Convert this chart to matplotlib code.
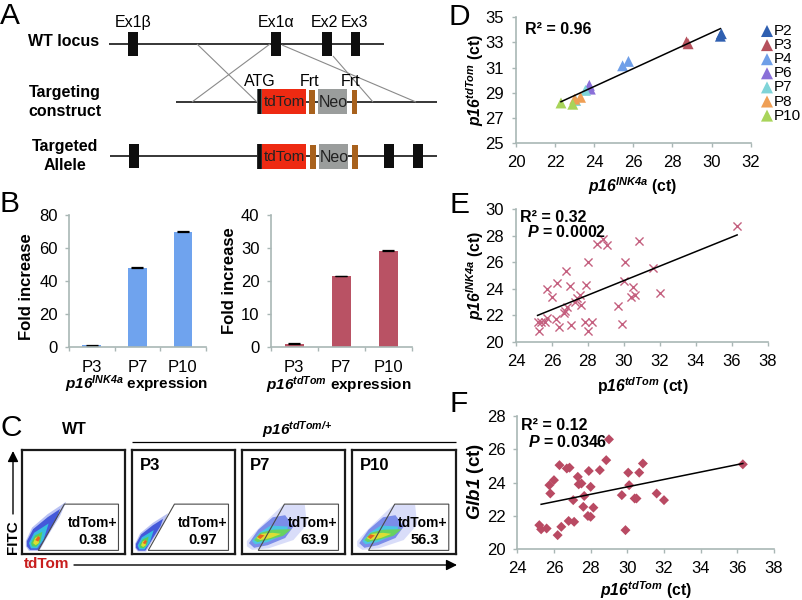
import matplotlib
matplotlib.use("Agg")
import matplotlib.pyplot as plt
from matplotlib.patches import Rectangle, Polygon
import numpy as np

plt.rcParams.update({
    'font.family': ['Liberation Sans', 'DejaVu Sans'],
    'mathtext.fontset': 'custom',
    'mathtext.rm': 'Liberation Sans',
    'mathtext.it': 'Liberation Sans:italic',
    'mathtext.bf': 'Liberation Sans:bold',
    'mathtext.bfit': 'Liberation Sans:italic:bold',
})

W, H = 802, 600
AX_COL = '#a9b7b5'

# ---- data -----
b_labels = ['P3', 'P7', 'P10']
b1_values = [1, 48, 70]
b2_values = [1, 21.5, 29.2]
b1_err = [0.15, 0.25, 0.25]
b2_err = [0.08, 0.08, 0.08]

d_groups = ['P2', 'P3', 'P4', 'P6', 'P7', 'P8', 'P10']
d_colors = ['#2f5fb0', '#b5505c', '#6f9fe8', '#8a70d8', '#7fd4d8', '#ef9f55', '#a8d45a']
d_x = [[30.45, 30.5], [28.72, 28.8], [25.45, 25.75], [23.75, 23.8], [23.55, 23.05], [23.3, 23.0], [22.3, 22.9]]
d_y = [[33.5, 33.7], [33.05, 32.9], [31.15, 31.5], [29.6, 29.3], [29.2, 28.4], [28.65, 28.5], [28.2, 28.1]]
d_fit_x = [22.3, 30.45]
d_fit_y = [28.3, 34.1]

e_x = [25.2, 25.3, 25.4, 25.6, 25.75, 25.75, 26.0, 26.2, 26.3, 26.4, 26.65, 26.75, 26.8, 26.85, 27.0, 27.05, 27.3, 27.4,
       27.55, 27.6, 27.85, 27.9, 28.0, 28.0, 28.2, 28.5, 28.85, 29.05, 29.7, 29.9, 30.0, 30.05, 30.4, 30.5, 30.6, 30.85,
       31.6, 32.0, 36.3]
e_y = [21.5, 20.8, 21.5, 21.5, 21.8, 24.0, 23.4, 21.7, 24.4, 21.15, 22.2, 22.3, 25.35, 22.6, 24.2, 21.25, 23.0, 23.3,
       23.5, 22.75, 21.5, 24.25, 26.0, 20.8, 21.5, 27.4, 27.75, 27.3, 22.7, 21.35, 24.55, 26.05, 23.4, 24.15, 23.55, 27.6,
       25.55, 23.7, 28.7]
e_fit_x = [25.2, 36.3]
e_fit_y = [22.0, 28.05]

f_x = [25.2, 25.3, 25.6, 25.8, 25.75, 26.0, 26.2, 26.3, 26.4, 26.7, 26.85, 26.8, 27.05, 27.1, 27.3, 27.35, 27.5, 27.6,
       27.65, 27.85, 27.9, 28.0, 28.0, 28.15, 28.5, 28.85, 29.0, 29.7, 29.9, 30.05, 30.1, 30.4, 30.5, 30.65, 30.85, 31.6,
       32.0, 36.3]
f_y = [21.45, 21.2, 21.25, 23.35, 23.85, 24.15, 20.85, 25.05, 21.35, 24.85, 24.9, 21.7, 22.95, 21.65, 24.35, 23.9, 23.95,
       22.55, 23.2, 22.0, 24.7, 23.75, 21.95, 22.5, 24.75, 25.35, 26.6, 23.25, 21.15, 24.6, 23.85, 23.05, 23.05, 24.6, 25.15,
       23.35, 22.95, 25.1]
f_fit_x = [25.3, 36.3]
f_fit_y = [22.7, 25.15]

flow_titles = ['', 'P3', 'P7', 'P10']
flow_values = ['0.38', '0.97', '63.9', '56.3']

fig = plt.figure(figsize=(W / 100, H / 100), dpi=100, facecolor='white')


def axes_px(x0, x1, ytop, ybot):
    return fig.add_axes([x0 / W, 1 - ybot / H, (x1 - x0) / W, (ybot - ytop) / H])


ov = fig.add_axes([0, 0, 1, 1], zorder=5)
ov.set_xlim(0, W)
ov.set_ylim(H, 0)
ov.axis('off')
ov.patch.set_alpha(0)


def T(x, y, s, size=12, **kw):
    kw.setdefault('ha', 'center')
    kw.setdefault('va', 'center')
    return ov.text(x, y, s, fontsize=size, **kw)


def L(xs, ys, c='black', lw=1.0, **kw):
    ov.plot(xs, ys, color=c, lw=lw, solid_capstyle='butt', **kw)


def R(x0, y0, x1, y1, c, z=3):
    ov.add_patch(Rectangle((x0, y0), x1 - x0, y1 - y0, facecolor=c, edgecolor='none', zorder=z))


for s, x, y in [('A', 10, 16), ('B', 10, 204), ('C', 11, 428), ('D', 459, 17), ('E', 459, 205), ('F', 459, 404)]:
    T(x, y, s, size=21.5)

# ---- A ----
for s, x, y in [('WT locus', 64, 42), ('Targeting', 65, 93), ('construct', 65, 112), ('Targeted', 65, 146), ('Allele', 65, 165)]:
    T(x, y, s, size=11.5, fontweight='bold')

L([109.3, 384], [43.7, 43.7], lw=1.1)
L([176, 437], [102, 102], lw=1.1)
L([110, 437], [155.7, 155.7], lw=1.1)
for x0, x1 in [(128.3, 138.3), (271, 281), (322, 332), (350.7, 360)]:
    R(x0, 32, x1, 56, '#0e0e0e')
for x0, x1 in [(129, 139), (384, 394), (413, 423)]:
    R(x0, 144, x1, 168, '#0e0e0e')
T(133, 22.5, 'Ex1β', size=11.5)
T(276, 22.5, 'Ex1α', size=11.5)
T(324, 22.5, 'Ex2', size=11.5)
T(355, 22.5, 'Ex3', size=11.5)
GC = '#8a8a8a'
L([197, 257], [44, 102], c=GC, lw=0.8)
L([270, 192], [44, 102], c=GC, lw=0.8)
L([282, 416], [45, 102], c=GC, lw=0.8)
L([333, 373], [56, 102], c=GC, lw=0.8)
for dy in (0, 55):
    off = 1 if dy else 0
    R(256.7, 89 + dy, 261.7, 113.5 + dy, '#2a2a2a' if dy else '#555a5a')
    R(257.5, 89 + dy, 260.5, 113.5 + dy, '#0e0e0e', z=4)
    R(261.7, 89 + dy, 306, 113.5 + dy, '#ee2a12')
    R(309 + off, 90 + dy, 315 + off, 113.5 + dy, '#a8611c')
    R(318 + off, 89 + dy, 347 + off, 113.5 + dy, '#9a9d9c')
    R(351.7 + off * 0.5, 90 + dy, 357.3 + off * 0.5, 113.5 + dy, '#a8611c')
    T(284, 102 + dy, 'tdTom', size=11, color='#222222', zorder=6)
    T(333 + off, 102.5 + dy, 'Neo', size=11.5, color='#222222', zorder=6)
T(260, 82, 'ATG', size=11.5)
T(310, 82, 'Frt', size=11.5)
T(351, 82, 'Frt', size=11.5)

# ---- B bars ----
for (x0, x1, vals, errs, ymax, step, col) in [
    (69, 205.7, b1_values, b1_err, 80, 20, '#6fa3ee'),
    (270.7, 411.7, b2_values, b2_err, 40, 10, '#b95264'),
]:
    ax = axes_px(x0, x1, 215, 347)
    ax.bar(range(3), vals, width=0.41, color=col, edgecolor='none')
    ax.errorbar(range(3), vals, yerr=errs, fmt='none', ecolor='black', elinewidth=0.7, capsize=4, capthick=0.9)
    ax.set_xlim(-0.5, 2.5)
    ax.set_ylim(0, ymax)
    ax.set_yticks(np.arange(0, ymax + 1, step))
    ax.set_xticks([-0.5, 0.5, 1.5, 2.5])
    ax.set_xticklabels([])
    for sp in ('top', 'right'):
        ax.spines[sp].set_visible(False)
    for sp in ('left', 'bottom'):
        ax.spines[sp].set_color(AX_COL)
        ax.spines[sp].set_linewidth(1.2)
    ax.tick_params(axis='both', color=AX_COL, length=3, width=1.0, labelsize=12, pad=5)
    for i, lb in enumerate(b_labels):
        ax.annotate(lb, (i, 0), xycoords=('data', 'axes fraction'), xytext=(0, -14.4), textcoords='offset points',
                    ha='center', va='center', fontsize=12)
T(27, 287, 'Fold increase', size=12, fontweight='bold', rotation=90)
T(230, 281, 'Fold increase', size=12, fontweight='bold', rotation=90)
T(136.5, 384, r'$\mathbfit{p16}^{\mathbfit{INK4a}}$ expression', size=11, fontweight='bold')
T(339, 385, r'$\mathbfit{p16}^{\mathbfit{tdTom}}$ expression', size=11, fontweight='bold')


def style_scatter(ax, xlim, ylim, xstep, ystep):
    ax.set_xlim(*xlim)
    ax.set_ylim(*ylim)
    ax.set_xticks(np.arange(xlim[0], xlim[1] + 1, xstep))
    ax.set_yticks(np.arange(ylim[0], ylim[1] + 1, ystep))
    for sp in ('top', 'right'):
        ax.spines[sp].set_visible(False)
    for sp in ('left', 'bottom'):
        ax.spines[sp].set_color(AX_COL)
        ax.spines[sp].set_linewidth(1.2)
    ax.tick_params(axis='both', color=AX_COL, length=3, width=1.0, labelsize=12, pad=5.5)
    ax.patch.set_alpha(0)


# D
axd = axes_px(516, 750.7, 17.3, 143.3)
for g, c, xs, ys in zip(d_groups, d_colors, d_x, d_y):
    axd.scatter(xs, ys, marker='^', s=62, color=c, edgecolor='none', label=g, clip_on=False, zorder=3)
axd.plot(d_fit_x, d_fit_y, color='black', lw=1.1, zorder=4)
style_scatter(axd, (20, 32), (25, 35), 2, 2)
for i, (g, c) in enumerate(zip(d_groups, d_colors)):
    y = 31 + i * 14.1
    ov.scatter([767], [y], marker='^', s=75, color=c, edgecolor='none')
    T(774, y, g, size=11, ha='left')
T(525, 29, 'R² = 0.96', size=11.5, fontweight='bold', ha='left')
T(633, 186, r'$\mathbfit{p16}^{\mathbfit{INK4a}}$ (ct)', size=11.3, fontweight='bold')
T(475, 80, r'$\mathbfit{p16}^{\mathbfit{tdTom}}$ (ct)', size=11.3, fontweight='bold', rotation=90)

# E
axe = axes_px(516, 767.7, 209, 342)
axe.scatter(e_x, e_y, marker='x', s=34, color='#c4607f', linewidths=1.0, clip_on=False, zorder=3)
axe.plot(e_fit_x, e_fit_y, color='black', lw=1.1, zorder=4)
style_scatter(axe, (24, 38), (20, 30), 2, 2)
T(520, 218, 'R² = 0.32', size=11.5, fontweight='bold', ha='left')
T(526.7, 232, r'$\mathbfit{P}$ = 0.0002', size=11.5, fontweight='bold', ha='left')
T(642.5, 386, r'p$\mathbfit{16}^{\mathbfit{tdTom}}$ (ct)', size=11.3, fontweight='bold')
T(475, 275, r'$\mathbfit{p16}^{\mathbfit{INK4a}}$ (ct)', size=11.3, fontweight='bold', rotation=90)

# F
axf = axes_px(517.3, 774, 416, 549.3)
axf.scatter(f_x, f_y, marker='D', s=26, color='#b94a63', edgecolor='none', clip_on=False, zorder=3)
axf.plot(f_fit_x, f_fit_y, color='black', lw=1.1, zorder=4)
style_scatter(axf, (24, 38), (20, 28), 2, 2)
T(520.7, 425.7, 'R² = 0.12', size=11.5, fontweight='bold', ha='left')
T(528, 442, r'$\mathbfit{P}$ = 0.0346', size=11.5, fontweight='bold', ha='left')
T(646, 590, r'$\mathbfit{p16}^{\mathbfit{tdTom}}$ (ct)', size=11.3, fontweight='bold')
T(475, 481, r'$\mathbfit{Glb1}$ (ct)', size=13.5, fontweight='bold', rotation=90)

# ---- C ----
narrow_colors = ['#b4bdf2', '#3a50d8', '#35c8e0', '#5ccf50', '#e8e030', '#e85a20']
wide_colors = ['#d6dbf9', '#7386e8', '#48cbe4', '#6ad455', '#e8e030', '#e85a20']
narrow_bands = [
    [(0.04, 0.12), (0.10, 0.25), (0.25, 0.38), (0.43, 0.50), (0.37, 0.36), (0.27, 0.20), (0.17, 0.025), (0.07, 0.025), (0.04, 0.07)],
    [(0.05, 0.12), (0.11, 0.235), (0.25, 0.35), (0.37, 0.43), (0.34, 0.34), (0.25, 0.19), (0.16, 0.035), (0.08, 0.035), (0.05, 0.07)],
    [(0.07, 0.10), (0.12, 0.20), (0.26, 0.29), (0.21, 0.13), (0.15, 0.05), (0.09, 0.05)],
    [(0.09, 0.10), (0.13, 0.175), (0.20, 0.21), (0.18, 0.11), (0.14, 0.065), (0.10, 0.07)],
    [(0.11, 0.10), (0.13, 0.15), (0.17, 0.17), (0.165, 0.10), (0.135, 0.08)],
    [(0.13, 0.13), (0.16, 0.17), (0.18, 0.15), (0.16, 0.115)],
]
wide_bands = [
    [(0.05, 0.12), (0.18, 0.26), (0.40, 0.47), (0.61, 0.47), (0.63, 0.28), (0.50, 0.13), (0.26, 0.05), (0.10, 0.035), (0.05, 0.07)],
    [(0.07, 0.10), (0.16, 0.23), (0.30, 0.35), (0.42, 0.37), (0.50, 0.26), (0.42, 0.15), (0.25, 0.08), (0.12, 0.055)],
    [(0.10, 0.12), (0.17, 0.20), (0.28, 0.27), (0.45, 0.26), (0.42, 0.19), (0.25, 0.11), (0.13, 0.09)],
    [(0.12, 0.13), (0.18, 0.20), (0.30, 0.23), (0.48, 0.235), (0.40, 0.17), (0.25, 0.13), (0.15, 0.11)],
    [(0.14, 0.15), (0.19, 0.19), (0.30, 0.20), (0.38, 0.19), (0.28, 0.15), (0.18, 0.13)],
    [(0.15, 0.16), (0.18, 0.185), (0.22, 0.175), (0.18, 0.14)],
]
flow_x0 = [21.7, 131.7, 241.7, 352]
flow_w = 103.5
value_dx = [0.0, 0.0, 0.02, 0.02]
for k, x0 in enumerate(flow_x0):
    ax = axes_px(x0, x0 + flow_w, 450, 553.5)
    ax.set_xlim(0, 1)
    ax.set_ylim(0, 1)
    ax.set_xticks([])
    ax.set_yticks([])
    for sp in ax.spines.values():
        sp.set_linewidth(1.6)
        sp.set_color('#1a1a1a')
    bands = wide_bands if k >= 2 else narrow_bands
    colors = wide_colors if k >= 2 else narrow_colors
    for pts, c in zip(bands, colors):
        if k == 1:
            pts = [(px * 0.82, py * 0.78) for px, py in pts]
        ax.add_patch(Polygon(pts, closed=True, facecolor=c, edgecolor='none', alpha=0.92))
    ax.add_patch(Polygon([(0.16, 0.03), (0.413, 0.477), (0.935, 0.477), (0.935, 0.03)], closed=True, fill=False,
                         edgecolor='#4a4a4a', lw=0.8))
    ax.text(0.687, 0.29, 'tdTom+', ha='center', va='center', fontsize=10, fontweight='bold')
    ax.text(0.687 + value_dx[k], 0.132, flow_values[k], ha='center', va='center', fontsize=10.5, fontweight='bold')
    if flow_titles[k]:
        ax.text(0.08, 0.855, flow_titles[k], ha='left', va='center', fontsize=12, fontweight='bold')

T(74, 430, 'WT', size=11.5, fontweight='bold')
T(297.5, 430, r'$\mathbfit{p16}^{\mathbfit{tdTom/{+}}}$', size=11, fontweight='bold')
L([132, 456], [441.7, 441.7], lw=0.9)
T(13, 537, 'FITC', size=11, fontweight='bold', rotation=90)
T(47, 564, 'tdTom', size=11, fontweight='bold', color='#c81e1e')
ov.annotate('', xy=(13, 451), xytext=(13, 514),
            arrowprops=dict(arrowstyle='-|>', color='black', lw=1.0, mutation_scale=16, shrinkA=0, shrinkB=0))
ov.annotate('', xy=(457, 565), xytext=(74, 565),
            arrowprops=dict(arrowstyle='-|>', color='black', lw=1.0, mutation_scale=16, shrinkA=0, shrinkB=0))

fig.savefig('out.png', dpi=100)
